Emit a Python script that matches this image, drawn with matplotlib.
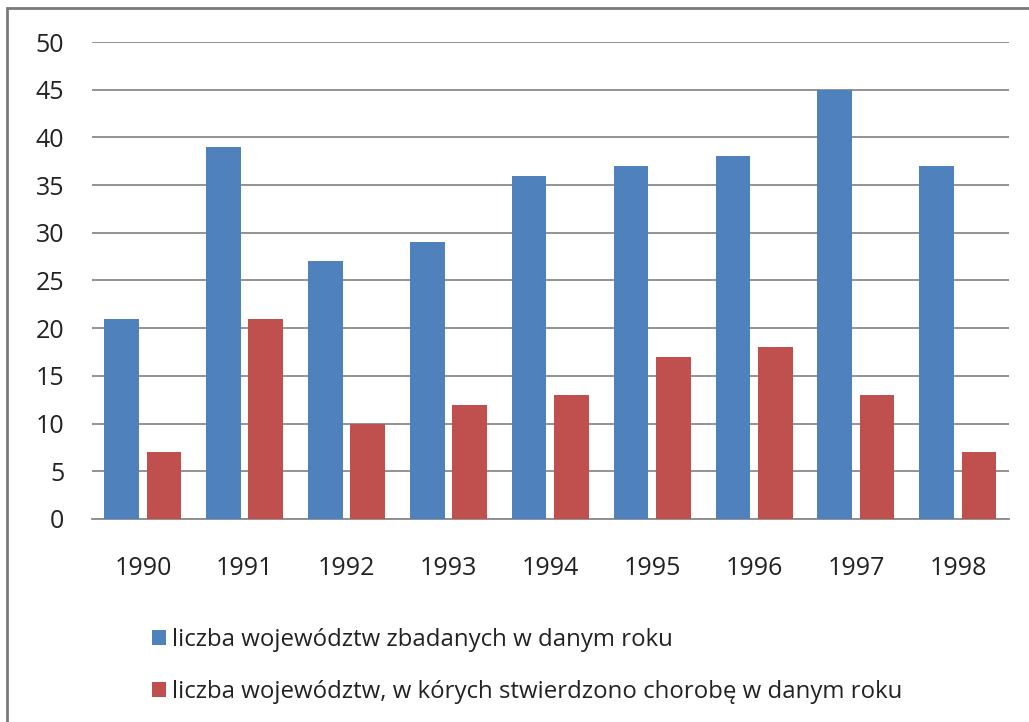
import matplotlib
matplotlib.use("Agg")
import matplotlib.pyplot as plt
import numpy as np
from matplotlib.patches import Rectangle

plt.rcParams.update({
    "font.family": ["Open Sans", "DejaVu Sans"],
    "font.size": 18,
})

years = ["1990", "1991", "1992", "1993", "1994", "1995", "1996", "1997", "1998"]
zbadane = [21, 39, 27, 29, 36, 37, 38, 45, 37]
stwierdzone = [7, 21, 10, 12, 13, 17, 18, 13, 7]
labels = ["liczba województw zbadanych w danym roku",
          "liczba województw, w kórych stwierdzono chorobę w danym roku"]
BLUE = "#4F81BD"
RED = "#C0504D"

fig = plt.figure(figsize=(10.29, 7.22), dpi=100)
ax = fig.add_axes([0.0894, 0.2812, 0.8912, 0.6606])

x = np.arange(len(years))
w = 0.34
b1 = ax.bar(x - 0.21, zbadane, w, color=BLUE, label=labels[0], zorder=3)
b2 = ax.bar(x + 0.205, stwierdzone, w, color=RED, label=labels[1], zorder=3)

ax.set_xlim(-0.5, len(years) - 0.5)
ax.set_ylim(0, 50)
ax.set_yticks(range(0, 51, 5))
ax.set_xticks(x)
ax.set_xticklabels(years)
ax.tick_params(axis="both", length=0, colors="#222222", labelsize=18)
ax.tick_params(axis="y", pad=20)
ax.tick_params(axis="x", pad=27)
ax.grid(axis="y", color="#8a8a8a", linewidth=1.3, zorder=0)
for s in ["top", "right", "left"]:
    ax.spines[s].set_visible(False)
ax.spines["bottom"].set_color("#8a8a8a")
ax.spines["bottom"].set_linewidth(1.3)

fig.legend(handles=[b1, b2], labels=labels, loc="upper left",
           bbox_to_anchor=(0.1477, 0.130), frameon=False,
           borderpad=0, borderaxespad=0,
           handlelength=0.6, handleheight=0.6, handletextpad=0.25,
           labelspacing=1.16, fontsize=17.3, labelcolor="#222222")

# frame around picture (only left and top edges visible)
fig.patches.append(Rectangle((7 / 1029, -0.5), 2.0, 0.5 + 1 - 8 / 722,
                             transform=fig.transFigure, fill=False,
                             edgecolor="#7a7a7a", linewidth=2.0))

fig.savefig("out.png", dpi=100)
